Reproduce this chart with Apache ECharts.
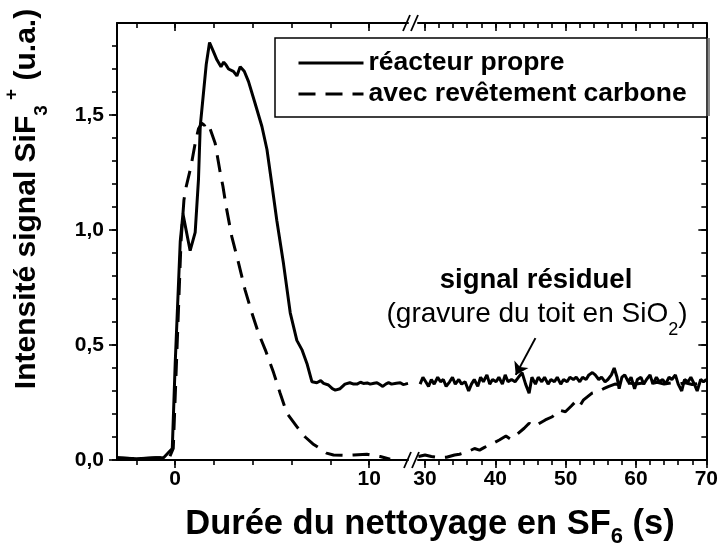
<!DOCTYPE html>
<html>
<head>
<meta charset="utf-8">
<script src="https://cdn.jsdelivr.net/npm/echarts@6/dist/echarts.min.js"></script>
<style>
  html, body { margin: 0; padding: 0; background: #fff; }
  #chart { width: 721px; height: 546px; }
</style>
</head>
<body>
<div id="chart"></div>
<script>
// SiF3+ signal during the SF6 cleaning step, time axis broken between 12 s and 29 s.

const seriesNames = ['réacteur propre', 'avec revêtement carbone'];

// clean reactor, first part of the time axis (t in s, signal in a.u.)
const cleanEarly = [
  [-3, 0.01], [-2.5, 0.008], [-2, 0.005], [-1.5, 0.008], [-1, 0.01], [-0.6, 0.01],
  [-0.15, 0.05], [0.0, 0.42], [0.26, 0.95], [0.4, 1.07], [0.77, 0.91], [1.03, 0.99],
  [1.2, 1.22], [1.29, 1.45], [1.6, 1.72], [1.77, 1.815], [1.95, 1.78], [2.15, 1.74],
  [2.36, 1.71], [2.5, 1.73], [2.6, 1.72], [2.75, 1.70], [3.0, 1.69], [3.18, 1.67],
  [3.35, 1.71], [3.56, 1.69], [3.78, 1.645], [4.12, 1.55], [4.47, 1.45], [4.73, 1.35],
  [4.98, 1.20], [5.24, 1.04], [5.58, 0.855], [5.93, 0.64], [6.27, 0.52], [6.53, 0.48],
  [6.79, 0.42], [7.05, 0.34], [7.3, 0.336], [7.5, 0.345], [7.65, 0.333], [7.9, 0.326],
  [8.1, 0.31], [8.25, 0.304], [8.5, 0.31], [8.75, 0.33], [9.0, 0.336], [9.2, 0.33],
  [9.37, 0.33], [9.55, 0.338], [9.7, 0.333], [9.9, 0.335], [10.05, 0.33], [10.25, 0.334],
  [10.4, 0.336], [10.55, 0.328], [10.7, 0.32], [10.85, 0.33], [11.0, 0.336], [11.15, 0.33],
  [11.25, 0.326], [11.4, 0.334], [11.6, 0.336], [11.75, 0.328], [11.86, 0.33], [12.0, 0.333]
];

// clean reactor, late part of the time axis
const cleanLate = [
  [29.3, 0.33], [29.7, 0.36], [30.1, 0.34], [30.5, 0.32], [30.9, 0.35], [31.3, 0.33],
  [31.8, 0.36], [32.2, 0.34], [32.6, 0.35], [33.0, 0.32], [33.5, 0.34], [33.9, 0.36],
  [34.3, 0.33], [34.8, 0.35], [35.2, 0.33], [35.7, 0.34], [36.2, 0.30], [36.6, 0.33],
  [37.0, 0.35], [37.5, 0.32], [37.9, 0.36], [38.3, 0.34], [38.8, 0.37], [39.2, 0.33],
  [39.6, 0.35], [40.1, 0.34], [40.5, 0.36], [41.0, 0.33], [41.4, 0.37], [41.8, 0.34],
  [42.3, 0.35], [42.8, 0.34], [43.3, 0.36], [43.8, 0.38], [44.3, 0.33], [44.8, 0.29],
  [45.2, 0.36], [45.7, 0.33], [46.1, 0.36], [46.6, 0.34], [47.0, 0.36], [47.5, 0.33],
  [47.9, 0.35], [48.4, 0.34], [48.8, 0.36], [49.3, 0.33], [49.7, 0.35], [50.2, 0.34],
  [50.6, 0.36], [51.1, 0.35], [51.5, 0.36], [52.0, 0.34], [52.4, 0.36], [52.9, 0.35],
  [53.3, 0.37], [53.8, 0.38], [54.2, 0.37], [54.7, 0.35], [55.1, 0.36], [55.6, 0.34],
  [56.0, 0.35], [56.5, 0.37], [56.9, 0.40], [57.3, 0.36], [57.6, 0.31], [58.0, 0.36],
  [58.4, 0.37], [58.9, 0.34], [59.3, 0.36], [59.8, 0.31], [60.2, 0.35], [60.7, 0.36],
  [61.1, 0.33], [61.5, 0.35], [62.0, 0.37], [62.4, 0.33], [62.9, 0.36], [63.3, 0.34],
  [63.8, 0.35], [64.2, 0.33], [64.7, 0.36], [65.1, 0.35], [65.6, 0.37], [66.0, 0.33],
  [66.5, 0.30], [66.9, 0.35], [67.4, 0.34], [67.8, 0.36], [68.3, 0.33], [68.7, 0.30],
  [69.2, 0.35], [69.6, 0.34], [70.0, 0.35]
];

// carbon-coated reactor, first part
const coatedEarly = [
  [-3, 0.01], [-2, 0.005], [-1, 0.01], [-0.3, 0.01], [-0.1, 0.05], [0.1, 0.5],
  [0.3, 0.95], [0.45, 1.13], [0.57, 1.19], [0.81, 1.275], [1.03, 1.377], [1.2, 1.44],
  [1.37, 1.464], [1.5, 1.455], [1.6, 1.457], [1.67, 1.467], [1.8, 1.44], [2.06, 1.377],
  [2.32, 1.25], [2.46, 1.19], [2.63, 1.10], [2.92, 0.97], [3.27, 0.855], [3.6, 0.74],
  [3.95, 0.64], [4.3, 0.55], [4.64, 0.48], [5.07, 0.38], [5.41, 0.29], [5.76, 0.203],
  [6.27, 0.145], [6.7, 0.10], [7.1, 0.07], [7.47, 0.05], [7.8, 0.03], [8.16, 0.022],
  [8.7, 0.02], [9.2, 0.022], [9.88, 0.025], [10.2, 0.02], [10.57, 0.015], [11.08, 0.003]
];

// carbon-coated reactor, late part
const coatedLate = [
  [29.06, 0.015], [30, 0.022], [30.9, 0.015], [32, 0.01], [33.06, 0.012], [34.2, 0.022],
  [34.9, 0.025], [36, 0.035], [37.04, 0.05], [37.75, 0.043], [38.45, 0.055], [39.5, 0.07],
  [40.56, 0.087], [41.5, 0.104], [42.2, 0.09], [43.2, 0.115], [44.1, 0.138], [44.8, 0.16],
  [45.5, 0.145], [46.3, 0.16], [47.1, 0.174], [48.1, 0.188], [49, 0.217], [49.96, 0.21],
  [50.8, 0.235], [51.6, 0.26], [52.1, 0.24], [52.5, 0.26], [53.7, 0.29], [54.6, 0.297],
  [55.4, 0.31], [56.05, 0.319], [57, 0.33], [58, 0.325], [59, 0.335], [60, 0.33],
  [61, 0.335], [62, 0.33], [63, 0.338], [64, 0.33], [65, 0.335], [66, 0.33],
  [67, 0.336], [68, 0.328], [69, 0.334], [70, 0.33]
];

// axis ranges and ticks
const earlyRange = [-3, 12];
const lateRange = [29, 70];
const yRange = [0, 1.9];
const earlyMinorTicks = [-2, 0, 2, 4, 6, 8, 10];
const earlyMajorTicks = [0, 10];
const lateMinorTicks = [30, 32, 34, 36, 38, 40, 42, 44, 46, 48, 50, 52, 54, 56, 58, 60, 62, 64, 66, 68, 70];
const lateMajorTicks = [30, 40, 50, 60, 70];
const yMinorTicks = [0, 0.1, 0.2, 0.3, 0.4, 0.5, 0.6, 0.7, 0.8, 0.9, 1.0, 1.1, 1.2, 1.3, 1.4, 1.5, 1.6, 1.7, 1.8];
const yMajorTicks = [0, 0.5, 1.0, 1.5];

// arrow pointing at the residual signal: [tail, head]
const arrowFrom = [45.7, 0.53];
const arrowTo = [42.9, 0.37];

const FONT = '"Liberation Sans", Arial, Helvetica, sans-serif';
const INK = '#000';

function xAx(grid, position, range, ticks, len, opts) {
  opts = opts || {};
  return {
    type: 'value', gridIndex: grid, position: position, min: range[0], max: range[1],
    axisLine: { show: !!opts.line, onZero: false, lineStyle: { color: INK, width: 2 } },
    axisTick: { show: true, inside: !!opts.inside, length: len, customValues: ticks,
                lineStyle: { color: INK, width: 1.6 } },
    axisLabel: opts.labels ? {
      show: true, customValues: opts.labels, margin: 9,
      color: INK, fontFamily: FONT, fontWeight: 'bold', fontSize: 21
    } : { show: false },
    splitLine: { show: false }
  };
}

function yAx(grid, position, ticks, len, opts) {
  opts = opts || {};
  return {
    type: 'value', gridIndex: grid, position: position, min: yRange[0], max: yRange[1],
    axisLine: { show: !!opts.line, onZero: false, lineStyle: { color: INK, width: 2 } },
    axisTick: { show: true, inside: !!opts.inside, length: len, customValues: ticks,
                lineStyle: { color: INK, width: 1.6 } },
    axisLabel: opts.labels ? {
      show: true, customValues: opts.labels, margin: 13,
      color: INK, fontFamily: FONT, fontWeight: 'bold', fontSize: 21,
      formatter: v => v.toFixed(1).replace('.', ',')
    } : { show: false },
    splitLine: { show: false }
  };
}

const solidStyle = { color: INK, width: 3, type: 'solid' };
const dashStyle = { color: INK, width: 3, type: [17, 10] };

function lineSeries(name, data, xi, yi, style, extra) {
  return Object.assign({
    type: 'line', name: name, data: data, xAxisIndex: xi, yAxisIndex: yi,
    symbol: 'none', smooth: false, lineStyle: style, itemStyle: { color: INK },
    emphasis: { disabled: true }, silent: true, z: 3
  }, extra || {});
}

const chart = echarts.init(document.getElementById('chart'), null, { renderer: 'canvas' });

chart.setOption({
  animation: false,
  backgroundColor: '#fff',
  grid: [
    { left: 117, top: 23, width: 291, height: 437 },
    { left: 418, top: 23, width: 292, height: 437 }
  ],
  xAxis: [
    xAx(0, 'bottom', earlyRange, earlyMinorTicks, 5, { line: true, labels: earlyMajorTicks }),
    xAx(0, 'bottom', earlyRange, earlyMajorTicks, 8),
    xAx(0, 'top', earlyRange, earlyMinorTicks, 5, { line: true, inside: true }),
    xAx(0, 'top', earlyRange, earlyMajorTicks, 8, { inside: true }),
    xAx(1, 'bottom', lateRange, lateMinorTicks, 5, { line: true, labels: lateMajorTicks }),
    xAx(1, 'bottom', lateRange, lateMajorTicks, 8),
    xAx(1, 'top', lateRange, lateMinorTicks, 5, { line: true, inside: true }),
    xAx(1, 'top', lateRange, lateMajorTicks, 8, { inside: true })
  ],
  yAxis: [
    yAx(0, 'left', yMinorTicks, 5, { line: true, labels: yMajorTicks }),
    yAx(0, 'left', yMajorTicks, 8),
    yAx(1, 'right', yMinorTicks, 5, { line: true, inside: true }),
    yAx(1, 'right', yMajorTicks, 8, { inside: true })
  ],
  legend: {
    data: seriesNames,
    orient: 'vertical',
    left: 297, top: 49, padding: 0,
    itemWidth: 65, itemHeight: 14, itemGap: 3,
    selectedMode: false, z: 6,
    itemStyle: { opacity: 0, borderWidth: 0 },
    lineStyle: { width: 3 },
    textStyle: { color: INK, fontFamily: FONT, fontWeight: 'bold', fontSize: 26.5, lineHeight: 28 }
  },
  series: [
    lineSeries(seriesNames[0], cleanEarly, 0, 0, solidStyle),
    lineSeries(seriesNames[1], coatedEarly, 0, 0, dashStyle),
    lineSeries(seriesNames[0], cleanLate, 4, 2, solidStyle, {
      markLine: {
        silent: true, animation: false,
        symbol: ['none', 'arrow'], symbolSize: 12,
        lineStyle: { color: INK, width: 2, type: 'solid' },
        label: { show: false },
        emphasis: { disabled: true },
        data: [[{ coord: arrowFrom }, { coord: arrowTo }]]
      }
    }),
    lineSeries(seriesNames[1], coatedLate, 4, 2, dashStyle)
  ],
  graphic: [
    // legend frame
    { type: 'rect', z: 5, shape: { x: 275, y: 38, width: 432, height: 79 },
      style: { fill: '#fff', stroke: INK, lineWidth: 1.5 } },
    { type: 'rect', z: 5, shape: { x: 707.5, y: 38, width: 2.5, height: 78 },
      style: { fill: '#8a8a8a' } },
    // axis break marks
    { type: 'line', z: 6, shape: { x1: 403, y1: 31, x2: 410, y2: 15 }, style: { stroke: INK, lineWidth: 1.8 } },
    { type: 'line', z: 6, shape: { x1: 411, y1: 31, x2: 418, y2: 15 }, style: { stroke: INK, lineWidth: 1.8 } },
    { type: 'line', z: 6, shape: { x1: 404, y1: 468, x2: 411, y2: 452 }, style: { stroke: INK, lineWidth: 1.8 } },
    { type: 'line', z: 6, shape: { x1: 412, y1: 468, x2: 419, y2: 452 }, style: { stroke: INK, lineWidth: 1.8 } },
    // x axis title
    { type: 'text', z: 6, x: 430, y: 524,
      style: {
        text: 'Durée du nettoyage en SF{sub|6} (s)',
        align: 'center', verticalAlign: 'middle',
        fill: INK, fontFamily: FONT, fontWeight: 'bold', fontSize: 34.5, lineHeight: 48,
        rich: { sub: { fontFamily: FONT, fontWeight: 'bold', fontSize: 22, lineHeight: 22, verticalAlign: 'bottom', fill: INK } }
      } },
    // y axis title
    { type: 'text', z: 6, x: 27, y: 199, rotation: Math.PI / 2,
      style: {
        text: 'Intensité signal SiF{sub|3}{sup| +} (u.a.)',
        align: 'center', verticalAlign: 'middle',
        fill: INK, fontFamily: FONT, fontWeight: 'bold', fontSize: 30, lineHeight: 49,
        rich: {
          sub: { fontFamily: FONT, fontWeight: 'bold', fontSize: 19, lineHeight: 19, verticalAlign: 'bottom', fill: INK },
          sup: { fontFamily: FONT, fontWeight: 'bold', fontSize: 19, lineHeight: 39, verticalAlign: 'top', fill: INK }
        }
      } },
    // annotation
    { type: 'text', z: 6, x: 536, y: 280,
      style: { text: 'signal résiduel', align: 'center', verticalAlign: 'middle',
               fill: INK, fontFamily: FONT, fontWeight: 'bold', fontSize: 27.5 } },
    { type: 'text', z: 6, x: 537, y: 314,
      style: {
        text: '(gravure du toit en SiO{sub|2})',
        align: 'center', verticalAlign: 'middle',
        fill: INK, fontFamily: FONT, fontWeight: 'normal', fontSize: 28, lineHeight: 51,
        rich: { sub: { fontFamily: FONT, fontSize: 18, lineHeight: 18, verticalAlign: 'bottom', fill: INK } }
      } }
  ]
});
</script>
</body>
</html>
